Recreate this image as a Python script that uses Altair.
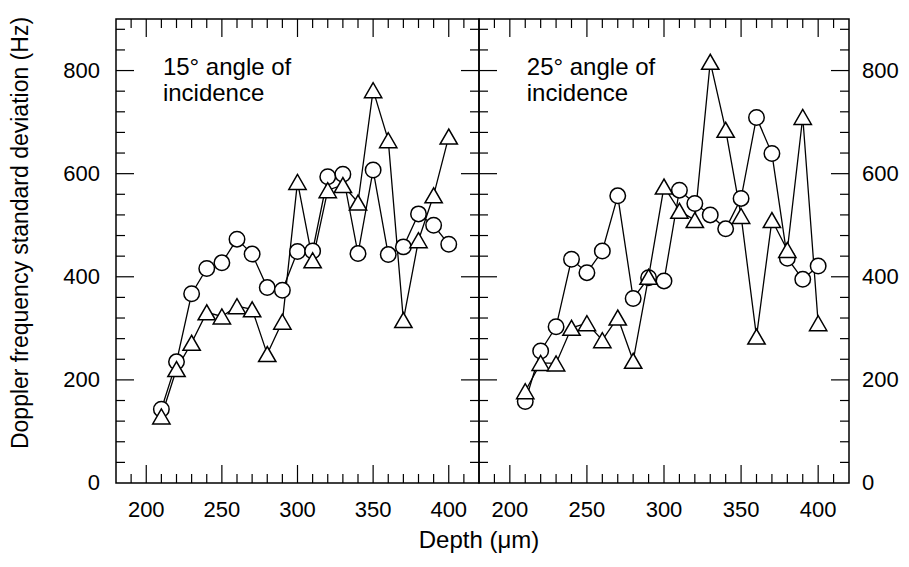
import altair as alt
import pandas as pd

FONT = "Liberation Sans"

depth = [210, 220, 230, 240, 250, 260, 270, 280, 290, 300,
         310, 320, 330, 340, 350, 360, 370, 380, 390, 400]

circ15 = [143, 235, 367, 416, 427, 473, 444, 379, 374, 449,
          450, 594, 599, 445, 607, 443, 458, 522, 500, 463]
tri15 = [129, 221, 272, 331, 323, 343, 337, 250, 313, 584,
         432, 568, 578, 544, 762, 665, 316, 471, 558, 672]

circ25 = [158, 256, 303, 434, 408, 450, 557, 358, 398, 392,
          568, 542, 520, 493, 552, 709, 639, 436, 395, 421]
tri25 = [178, 233, 232, 301, 310, 277, 321, 237, 400, 575,
         528, 510, 817, 685, 518, 284, 510, 452, 710, 310]

x_labels = [200, 250, 300, 350, 400]
x_minor = [190, 210, 220, 230, 240, 260, 270, 280, 290, 310, 320, 330, 340,
           360, 370, 380, 390, 410]
y_labels = [0, 200, 400, 600, 800]
y_major_ticks = [200, 400, 600, 800]
y_minor = [40, 80, 120, 160, 240, 280, 320, 360, 440, 480, 520, 560,
           640, 680, 720, 760, 840, 880]

panel_text = [["15° angle of", "incidence"], ["25° angle of", "incidence"]]
y_title = "Doppler frequency standard deviation (Hz)"
x_title = "Depth (μm)"

H = 464
MAJ = 18
MIN = 9
LBL = 22
XMIN, XMAX = 180, 420
YMIN, YMAX = 0, 900


def panel(circ, tri, label, width, left):
    xs = alt.Scale(domain=[XMIN, XMAX], nice=False, zero=False)
    ys = alt.Scale(domain=[YMIN, YMAX], nice=False, zero=False)
    X = lambda f: alt.X(f, scale=xs, axis=None)
    Y = lambda f: alt.Y(f, scale=ys, axis=None)
    XD = lambda v: alt.XDatum(v, scale=xs, axis=None)
    YD = lambda v: alt.YDatum(v, scale=ys, axis=None)

    df = pd.DataFrame({
        "depth": depth + depth,
        "value": circ + tri,
        "series": ["circle"] * len(depth) + ["triangle"] * len(depth),
    })
    base = alt.Chart(df)
    lines = base.mark_line(color="black", strokeWidth=1.3).encode(
        x=X("depth:Q"), y=Y("value:Q"), detail="series:N",
    )
    pts = base.mark_point(filled=True, fill="white", stroke="black",
                          strokeWidth=1.5, opacity=1).encode(
        x=X("depth:Q"), y=Y("value:Q"),
        shape=alt.Shape("series:N", scale=alt.Scale(domain=["circle", "triangle"],
                                                   range=["circle", "triangle-up"]),
                        legend=None),
        size=alt.Size("series:N", scale=alt.Scale(domain=["circle", "triangle"],
                                                 range=[240, 300]),
                      legend=None),
    )

    xmaj = pd.DataFrame({"t": x_labels})
    xmin = pd.DataFrame({"t": x_minor})
    ymaj = pd.DataFrame({"t": y_major_ticks})
    ymin = pd.DataFrame({"t": y_minor})
    layers = []
    for d, L in ((xmaj, MAJ), (xmin, MIN)):
        layers.append(alt.Chart(d).mark_rule(color="black", strokeWidth=1.2).encode(
            x=X("t:Q"), y=alt.value(H), y2=alt.value(H - L)))
        layers.append(alt.Chart(d).mark_rule(color="black", strokeWidth=1.2).encode(
            x=X("t:Q"), y=alt.value(0), y2=alt.value(L)))
    for d, L in ((ymaj, MAJ), (ymin, MIN)):
        layers.append(alt.Chart(d).mark_rule(color="black", strokeWidth=1.2).encode(
            y=Y("t:Q"), x=alt.value(0), x2=alt.value(L)))
        layers.append(alt.Chart(d).mark_rule(color="black", strokeWidth=1.2).encode(
            y=Y("t:Q"), x=alt.value(width), x2=alt.value(width - L)))

    # tick labels
    xl = alt.Chart(pd.DataFrame({"t": x_labels})).mark_text(
        align="center", baseline="top", dy=17, font=FONT, fontSize=LBL,
        color="black").encode(x=X("t:Q"), y=YD(YMIN), text=alt.Text("t:Q"))
    layers.append(xl)
    if left:
        yl = alt.Chart(pd.DataFrame({"t": y_labels})).mark_text(
            align="right", baseline="middle", dx=-16, font=FONT, fontSize=LBL,
            color="black").encode(y=Y("t:Q"), x=XD(XMIN), text=alt.Text("t:Q"))
        yt = alt.Chart(pd.DataFrame({"a": [0]})).mark_text(
            align="center", baseline="middle", angle=270, font=FONT, fontSize=23,
            color="black").encode(x=alt.value(-95), y=alt.value(214),
                                  text=alt.value(y_title))
        xt = alt.Chart(pd.DataFrame({"a": [0]})).mark_text(
            align="center", baseline="middle", font=FONT, fontSize=24,
            color="black").encode(x=alt.value(width), y=alt.value(H + 58),
                                  text=alt.value(x_title))
        layers += [yl, yt, xt]
    else:
        yl = alt.Chart(pd.DataFrame({"t": y_labels})).mark_text(
            align="left", baseline="middle", dx=13, font=FONT, fontSize=LBL,
            color="black").encode(y=Y("t:Q"), x=XD(XMAX), text=alt.Text("t:Q"))
        layers.append(yl)

    txt = alt.Chart(pd.DataFrame({"a": [0]})).mark_text(
        align="left", baseline="top", font=FONT, fontSize=24, lineHeight=26,
        color="black").encode(x=XD(211), y=YD(828), text=alt.value(label))
    return alt.layer(lines, *layers, pts, txt).properties(width=width, height=H)


left = panel(circ15, tri15, panel_text[0], 363, True)
right = panel(circ25, tri25, panel_text[1], 370, False)

chart = alt.hconcat(left, right, spacing=0, bounds="flush").properties(
    padding={"left": 1, "top": 8, "right": 0, "bottom": 0},
    background="white",
).configure_view(stroke="black", strokeWidth=1.5)

chart.save("out.html", embed_options={"renderer": "svg", "actions": False})
